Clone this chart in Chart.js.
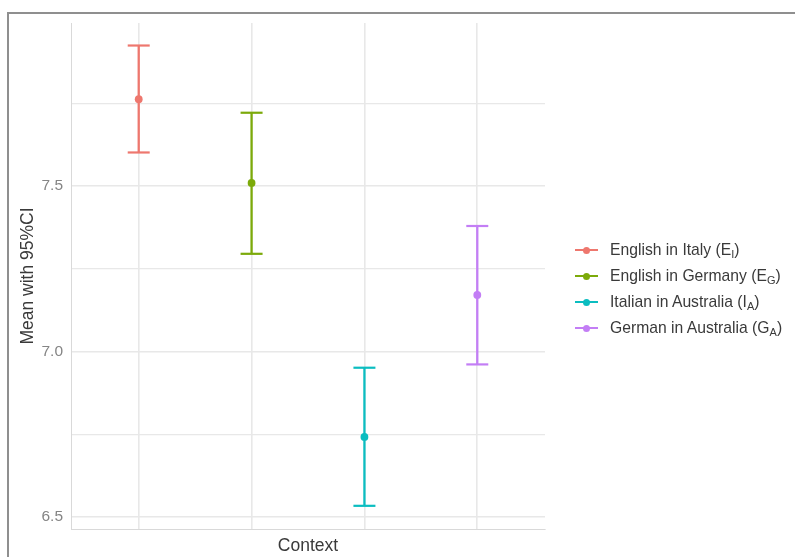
<!DOCTYPE html>
<html>
<head>
<meta charset="utf-8">
<script src="https://cdn.jsdelivr.net/npm/chart.js@4"></script>
<style>
  html, body { margin: 0; padding: 0; background: #fff; }
  #wrap { position: relative; width: 795px; height: 557px; overflow: hidden; font-family: "Liberation Sans", Arial, sans-serif; }
  #frame { position: absolute; left: 7px; top: 12px; right: 0; bottom: 0; border-top: 2px solid #8f8f8f; border-left: 2px solid #8f8f8f; }
  #chart { position: absolute; left: 0; top: 0; }
  #legend { position: absolute; left: 575px; top: 237px; }
  .item { height: 26px; display: flex; align-items: center; font-size: 15.7px; color: #3a3a3a; white-space: nowrap; }
  .key { position: relative; width: 23px; height: 26px; margin-right: 12px; }
  .key .ln { position: absolute; left: 0; top: 12px; width: 23px; height: 2px; }
  .key .dt { position: absolute; left: 8px; top: 9.5px; width: 7px; height: 7px; border-radius: 50%; }
  .item sub { font-size: 11px; vertical-align: -3px; line-height: 0; }
</style>
</head>
<body>
<div id="wrap">
  <canvas id="chart" width="795" height="557"></canvas>
  <div id="legend"></div>
  <div id="frame"></div>
</div>
<script>
// group names and subscripts used in the legend
const groups = ['English in Italy', 'English in Germany', 'Italian in Australia', 'German in Australia'];
const subs = [['E', 'I'], ['E', 'G'], ['I', 'A'], ['G', 'A']];
// mean and 95% CI bounds per group
const means = [7.762, 7.509, 6.742, 7.171];
const lower = [7.601, 7.295, 6.534, 6.961];
const upper = [7.924, 7.721, 6.951, 7.379];
const colors = ['#EE776E', '#7CAA0A', '#0BBDC0', '#C37EF5'];
// labelled y ticks, plus minor grid between them
const yTicks = [6.5, 7.0, 7.5];
const yMinor = [6.75, 7.25, 7.75];

const datasets = [];
groups.forEach((g, i) => {
  const x = i + 1;
  // CI whisker: two points joined by a line, caps drawn as 'line' point style
  datasets.push({
    label: g + ' CI',
    data: [{ x: x, y: lower[i] }, { x: x, y: upper[i] }],
    showLine: true,
    borderColor: colors[i],
    borderWidth: 2.3,
    pointStyle: 'line',
    pointRadius: 11,
    pointBorderWidth: 2.2,
    pointBorderColor: colors[i],
    pointBackgroundColor: colors[i]
  });
  datasets.push({
    label: g,
    data: [{ x: x, y: means[i] }],
    pointStyle: 'circle',
    pointRadius: 3.9,
    pointBorderWidth: 0,
    pointBackgroundColor: colors[i],
    borderColor: colors[i]
  });
});

new Chart(document.getElementById('chart'), {
  type: 'scatter',
  data: { datasets: datasets },
  options: {
    responsive: false,
    animation: false,
    layout: { padding: { top: 23, right: 250, bottom: 0, left: 0 } },
    plugins: { legend: { display: false }, tooltip: { enabled: false } },
    scales: {
      x: {
        type: 'linear',
        min: 0.4,
        max: 4.6,
        afterBuildTicks: s => { s.ticks = [1, 2, 3, 4].map(v => ({ value: v })); },
        afterFit: s => { s.height = 28; },
        ticks: { display: false },
        grid: { color: '#e8e8e8', lineWidth: 1.6, drawTicks: false },
        border: { display: true, color: '#d9d9d9', width: 1 },
        title: {
          display: true,
          text: 'Context',
          color: '#3a3a3a',
          font: { family: '"Liberation Sans", Arial, sans-serif', size: 17.5 },
          padding: { top: 0, bottom: 0.5 }
        }
      },
      y: {
        min: 6.464,
        max: 7.992,
        afterBuildTicks: s => {
          s.ticks = yTicks.concat(yMinor).sort((a, b) => a - b).map(v => ({ value: v }));
        },
        afterFit: s => { s.width = 71; },
        ticks: {
          padding: 8,
          color: '#858585',
          font: { family: '"Liberation Sans", Arial, sans-serif', size: 15.5 },
          callback: v => (yTicks.includes(v) ? v.toFixed(1) : '')
        },
        grid: {
          drawTicks: false,
          color: '#e8e8e8',
          lineWidth: c => (yTicks.includes(c.tick.value) ? 1.6 : 1.2)
        },
        border: { display: true, color: '#d9d9d9', width: 1 },
        title: {
          display: true,
          text: 'Mean with 95%CI',
          color: '#3a3a3a',
          font: { family: '"Liberation Sans", Arial, sans-serif', size: 17.5 },
          padding: { top: 18, bottom: 0 }
        }
      }
    }
  }
});

// legend with subscripted group codes
const legend = document.getElementById('legend');
groups.forEach((g, i) => {
  const row = document.createElement('div');
  row.className = 'item';
  row.innerHTML =
    '<span class="key"><span class="ln" style="background:' + colors[i] + '"></span>' +
    '<span class="dt" style="background:' + colors[i] + '"></span></span>' +
    '<span>' + g + ' (' + subs[i][0] + '<sub>' + subs[i][1] + '</sub>)</span>';
  legend.appendChild(row);
});
</script>
</body>
</html>
